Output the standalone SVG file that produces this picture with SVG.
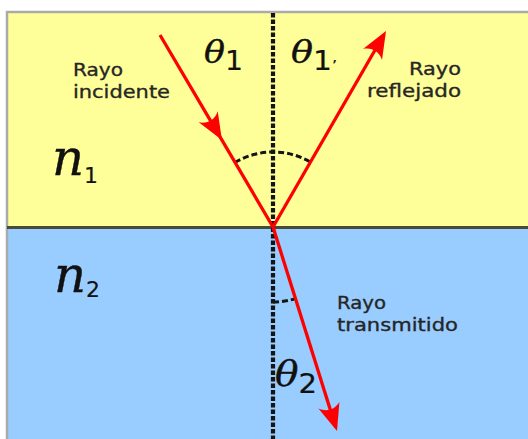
<svg xmlns="http://www.w3.org/2000/svg" width="528" height="439" viewBox="0 0 528 439">
<style>
.lbl{font-family:"DejaVu Sans","Verdana",sans-serif;font-size:18px;fill:#262626;stroke:#262626;stroke-width:0.35}
.math{font-family:"DejaVu Serif","Liberation Serif",serif;font-style:italic;fill:#111;stroke:#111;stroke-width:0.4}
.sub{font-family:"DejaVu Sans","Liberation Sans",sans-serif;font-style:normal;fill:#111;stroke-width:0.2}
.ray{fill:none;stroke:#ff0000;stroke-width:3.3}
.normal{fill:none;stroke:#151515;stroke-width:4.2;stroke-dasharray:4.5 2}
.arc{fill:none;stroke:#151515;stroke-width:3;stroke-dasharray:6 3}
</style>
<defs>
<marker id="arr" viewBox="-32 -14 34 28" markerWidth="34" markerHeight="28" refX="-4" refY="0" orient="auto" markerUnits="userSpaceOnUse" overflow="visible">
<path d="M0,0 L-27,-11 C-21,-4 -21,4 -27,11 Z" fill="#ff0000"/>
</marker>
</defs>
<rect x="0" y="0" width="528" height="439" fill="#ffffff"/>
<g id="medium1">
<rect x="7" y="12" width="521" height="215" fill="#ffff99"/>
</g>
<g id="medium2">
<rect x="7" y="228" width="521" height="211" fill="#99ccff"/>
</g>
<g id="frame">
<path d="M7,439 V12 H528" fill="none" stroke="#aaaaaa" stroke-width="2.5"/>
<line x1="7" y1="227.5" x2="528" y2="227.5" stroke="#4a4a3a" stroke-width="3"/>
</g>
<g id="connectors">
<line class="normal" x1="273" y1="13" x2="273" y2="439"/>
<path class="arc" d="M235,162.4 A75,75 0 0 1 310.5,162"/>
<path class="arc" d="M273,302 A75,75 0 0 0 295.4,298.6"/>
<path class="ray" d="M160,35 L219.9,136.6 L273,227" marker-mid="url(#arr)"/>
<path class="ray" d="M273,227 L384,34.5" marker-end="url(#arr)"/>
<path class="ray" d="M273,227 L335.8,427.2" marker-end="url(#arr)"/>
</g>
<g id="label-incidente">
<text class="lbl" x="73" y="76" textLength="50" lengthAdjust="spacingAndGlyphs">Rayo</text>
<text class="lbl" x="73" y="98" textLength="97" lengthAdjust="spacingAndGlyphs">incidente</text>
</g>
<g id="label-reflejado">
<text class="lbl" x="409" y="75" textLength="52" lengthAdjust="spacingAndGlyphs">Rayo</text>
<text class="lbl" x="367" y="97" textLength="94" lengthAdjust="spacingAndGlyphs">reflejado</text>
</g>
<g id="label-transmitido">
<text class="lbl" x="337" y="309" textLength="49" lengthAdjust="spacingAndGlyphs">Rayo</text>
<text class="lbl" x="337" y="331" textLength="121" lengthAdjust="spacingAndGlyphs">transmitido</text>
</g>
<g id="theta1">
<text class="math" x="204" y="63" font-size="32" textLength="39" lengthAdjust="spacingAndGlyphs">θ<tspan class="sub" font-size="26" dy="7">1</tspan></text>
</g>
<g id="theta1p">
<text class="math" x="291" y="63" font-size="32" textLength="46" lengthAdjust="spacingAndGlyphs">θ<tspan class="sub" font-size="26" dy="7">1</tspan><tspan class="sub" font-size="14">’</tspan></text>
</g>
<g id="theta2">
<text class="math" x="275" y="386" font-size="35" textLength="42" lengthAdjust="spacingAndGlyphs">θ<tspan class="sub" font-size="26" dy="7">2</tspan></text>
</g>
<g id="n1">
<text class="math" x="52" y="175" font-size="50" textLength="46" lengthAdjust="spacingAndGlyphs">n<tspan class="sub" font-size="22" dy="8">1</tspan></text>
</g>
<g id="n2">
<text class="math" x="54" y="292" font-size="50" textLength="46" lengthAdjust="spacingAndGlyphs">n<tspan class="sub" font-size="22" dy="5">2</tspan></text>
</g>
</svg>
